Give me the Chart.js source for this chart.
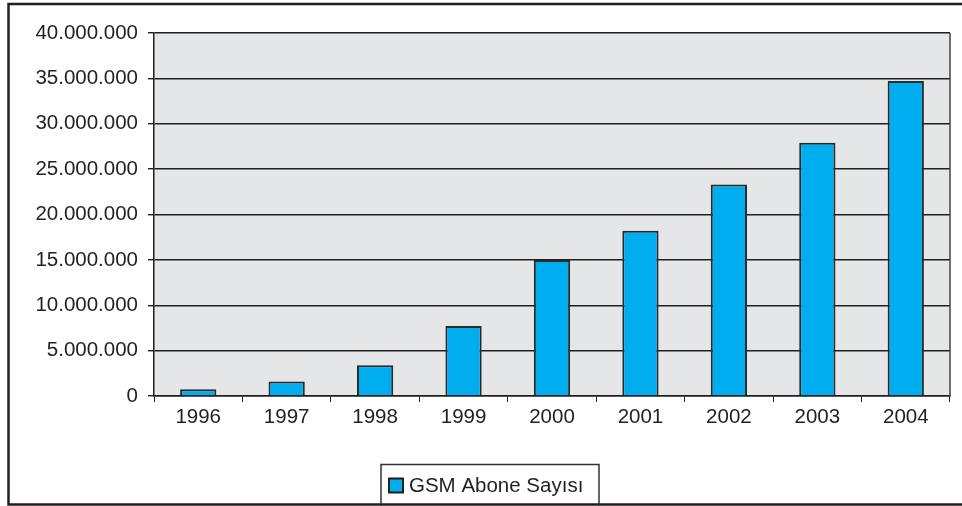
<!DOCTYPE html>
<html>
<head>
<meta charset="utf-8">
<script src="https://cdn.jsdelivr.net/npm/chart.js@4"></script>
<style>
  html, body { margin: 0; padding: 0; background: #fff; }
  #wrap { width: 962px; height: 506px; }
</style>
</head>
<body>
<div id="wrap"><canvas id="chart1" width="962" height="506"></canvas></div>
<script>
// data
const years = ["1996", "1997", "1998", "1999", "2000", "2001", "2002", "2003", "2004"];
const aboneSayisi = [750000, 1600000, 3400000, 7700000, 15000000, 18200000, 23300000, 27900000, 34700000];
const seriesLabel = "GSM Abone Sayısı";
const yTicks = [0, 5000000, 10000000, 15000000, 20000000, 25000000, 30000000, 35000000, 40000000];

const ink = "#231f20";
const fontFam = "'Liberation Sans', Arial, sans-serif";

function trNumber(v){
    return String(v).replace(/\B(?=(\d{3})+(?!\d))/g, ".");
}

// grey plot background + outer frame + legend box
const decor = {
    id: "decor",
    beforeDraw(chart){
	const ctx = chart.ctx;
	const a = chart.chartArea;
	ctx.save();
	ctx.fillStyle = "#e5e6e8";
	ctx.fillRect(a.left, a.top, a.right - a.left, a.bottom - a.top);
	ctx.restore();
    },
    afterDraw(chart){
	const ctx = chart.ctx;
	const a = chart.chartArea;
	const ds = chart.data.datasets[0];
	ctx.save();
	// right edge of plot
	ctx.strokeStyle = "#444";
	ctx.lineWidth = 1.5;
	ctx.beginPath();
	ctx.moveTo(a.right, a.top);
	ctx.lineTo(a.right, a.bottom);
	ctx.stroke();
	// outer frame
	ctx.strokeStyle = ink;
	ctx.lineWidth = 2.5;
	ctx.beginPath();
	ctx.moveTo(970, 4);
	ctx.lineTo(8.5, 4);
	ctx.lineTo(8.5, 504.5);
	ctx.lineTo(970, 504.5);
	ctx.stroke();
	// legend box
	ctx.lineWidth = 1.5;
	ctx.strokeStyle = "#333";
	ctx.beginPath();
	ctx.moveTo(381, 510);
	ctx.lineTo(381, 464.5);
	ctx.lineTo(599, 464.5);
	ctx.lineTo(599, 510);
	ctx.stroke();
	ctx.fillStyle = ds.backgroundColor;
	ctx.fillRect(389, 478.5, 14, 14);
	ctx.strokeStyle = ink;
	ctx.lineWidth = 2;
	ctx.strokeRect(389, 478.5, 14, 14);
	ctx.fillStyle = ink;
	ctx.font = "20.5px " + fontFam;
	ctx.textBaseline = "middle";
	ctx.fillText(ds.label, 409, 486);
	ctx.restore();
    }
};

new Chart(document.getElementById("chart1"), {
    type: "bar",
    data: {
	labels: years,
	datasets: [{
	    label: seriesLabel,
	    data: aboneSayisi,
	    backgroundColor: "#00aeef",
	    borderColor: "#2a2a2a",
	    borderWidth: 2,
	    borderSkipped: "bottom",
	    categoryPercentage: 1,
	    barPercentage: 0.41
	}]
    },
    options: {
	responsive: false,
	animation: false,
	maintainAspectRatio: false,
	layout: { padding: { top: 33, right: 12, bottom: 0, left: 0 } },
	plugins: {
	    legend: { display: false },
	    tooltip: { enabled: false }
	},
	scales: {
	    x: {
		offset: true,
		grid: {
		    offset: true,
		    drawOnChartArea: false,
		    drawTicks: true,
		    tickLength: 6,
		    color: ink
		},
		border: { display: true, color: ink, width: 1.5 },
		ticks: {
		    color: ink,
		    font: { size: 20.5, family: fontFam },
		    padding: 3,
		    maxRotation: 0
		},
		afterFit(scale){ scale.height = 110; }
	    },
	    y: {
		min: 0,
		max: 40000000,
		afterBuildTicks(scale){
		    scale.ticks = yTicks.map(v => ({ value: v }));
		},
		grid: {
		    color: ink,
		    lineWidth: 1.4,
		    tickLength: 6
		},
		border: { display: true, color: ink, width: 1.5 },
		ticks: {
		    color: ink,
		    font: { size: 20.5, family: fontFam },
		    padding: 10,
		    callback: function(v){ return trNumber(v); }
		},
		afterFit(scale){ scale.width = 154; }
	    }
	}
    },
    plugins: [decor]
});
</script>
</body>
</html>
